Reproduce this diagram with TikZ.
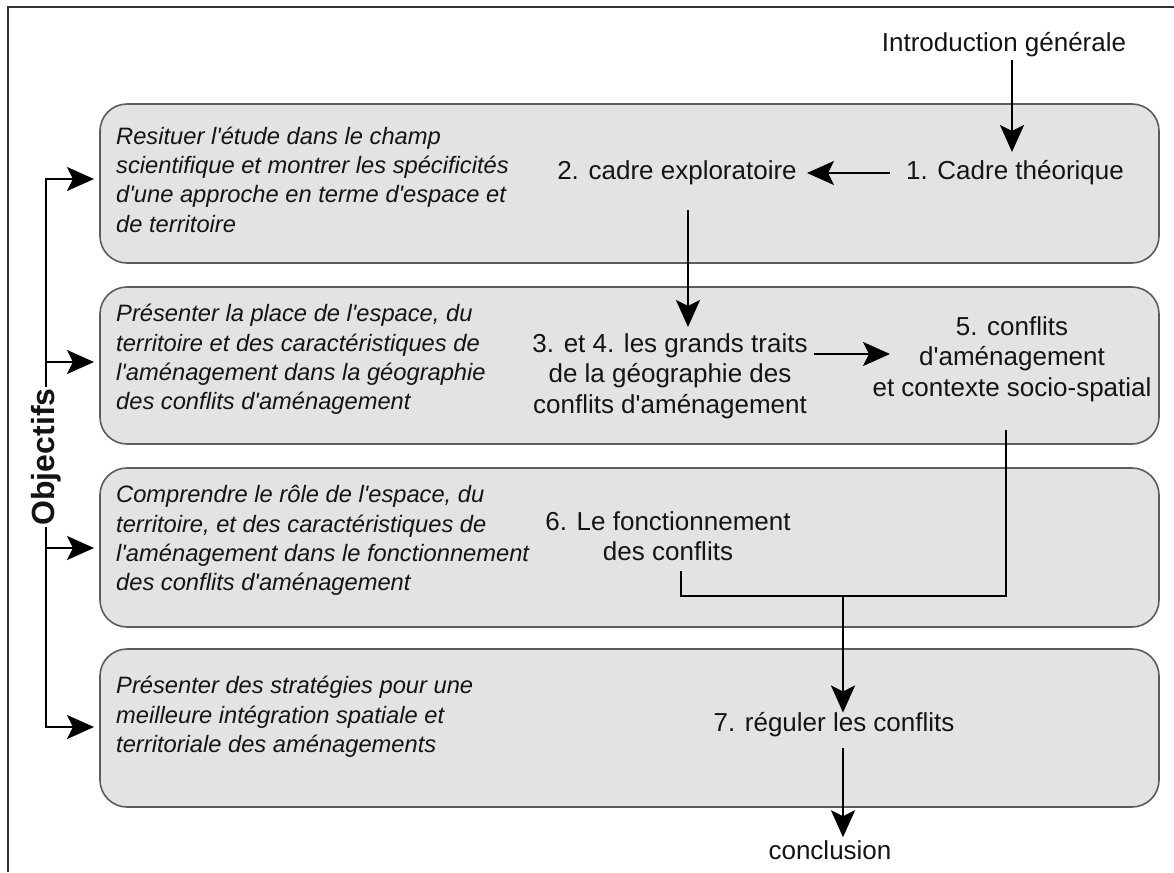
\documentclass[tikz,border=0pt]{standalone}
\usepackage{fontspec}
\setmainfont{Liberation Sans}[Ligatures=TeXOff]
\usetikzlibrary{arrows.meta}
\definecolor{boxfill}{HTML}{E3E3E3}
\definecolor{boxline}{HTML}{5C5C5C}
\definecolor{txt}{HTML}{141414}
\definecolor{frame}{HTML}{333333}
\begin{document}
\begin{tikzpicture}[x=1pt,y=-1pt,
  box/.style={draw=boxline, line width=1.6pt, fill=boxfill, rounded corners=27pt,
    minimum width=1059pt, inner sep=0pt},
  goal/.style={font=\fontsize{23.7}{29.3}\selectfont\itshape, align=left, anchor=west,
    inner sep=0pt, text=txt},
  lbl/.style={font=\fontsize{26}{30.5}\selectfont, align=center, inner sep=0pt, text=txt},
  arr/.style={line width=2.3pt, -{Stealth[length=27pt,width=24pt,inset=6pt]}},
  conn/.style={line width=2.3pt},
]
\useasboundingbox (0,0) rectangle (1174,872);
\fill[white] (0,0) rectangle (1174,872);
\draw[frame, line width=1.4pt] (8,872) -- (8,7) -- (1174,7);

% boxes
\node[box, minimum height=159pt] (b1) at (629.5,183.5) {};
\node[box, minimum height=157pt] (b2) at (629.5,365.5) {};
\node[box, minimum height=159pt] (b3) at (629.5,547.5) {};
\node[box, minimum height=158pt] (b4) at (629.5,728) {};

% objectives
\node[goal] (g1) at (116,179.5) {Resituer l'étude dans le champ\\scientifique et montrer les spécificités\\d'une approche en terme d'espace et\\de territoire};
\node[goal] (g2) at (116,359.5) {Présenter la place de l'espace, du\\territoire et des caractéristiques de\\l'aménagement dans la géographie\\des conflits d'aménagement};
\node[goal] (g3) at (116,540.5) {Comprendre le rôle de l'espace, du\\territoire, et des caractéristiques de\\l'aménagement dans le fonctionnement\\des conflits d'aménagement};
\node[goal] (g4) at (116,717) {Présenter des stratégies pour une\\meilleure intégration spatiale et\\territoriale des aménagements};

% bracket
\node[font=\fontsize{32}{32}\selectfont\bfseries, rotate=90, inner sep=1.5pt, text=txt] (objt) at (46,457) {Objectifs};
\coordinate (o1) at (94,179);
\coordinate (o2) at (94,362);
\coordinate (o3) at (94,548);
\coordinate (o4) at (94,727);
\draw[arr] (objt.east) |- (o1);
\draw[arr] (objt.east) |- (o2);
\draw[arr] (objt.west) |- (o3);
\draw[arr] (objt.west) |- (o4);

% flow labels
\node[lbl] (intro) at (1004,45) {Introduction générale};
\node[lbl] (t1) at (1015,173) {1. Cadre théorique};
\node[lbl] (t2) at (677,173) {2. cadre exploratoire};
\node[lbl] (t34) at (670,376) {3. et 4. les grands traits\\de la géographie des\\conflits d'aménagement};
\node[lbl] (t5) at (1012,359) {5. conflits\\d'aménagement\\et contexte socio-spatial};
\node[lbl] (t6) at (668,536) {6. Le fonctionnement\\des conflits};
\node[lbl] (t7) at (834,725) {7. réguler les conflits};
\node[lbl] (concl) at (830,850) {conclusion};

% connectors
\coordinate (ax1) at (1012,152);
\coordinate (ax2) at (807,173);
\coordinate (ax3) at (688,327);
\coordinate (ax4) at (890,354);
\coordinate (j5) at (1006,596);
\coordinate (j6) at (681,596);
\coordinate (j7) at (843,596);

\draw[arr, shorten <=3pt] (intro.south -| ax1) -- (ax1);
\draw[arr, shorten <=16pt] (t1.west |- ax2) -- (ax2);
\draw[arr, shorten <=25pt] (t2.south -| ax3) -- (ax3);
\draw[arr, shorten <=6pt] (t34.east |- ax4) -- (ax4);
\draw[conn, shorten <=28pt, shorten >=10pt] (t5.south -| j5) -- (j5) -- (j6) -- (t6.south -| j6);
\draw[arr] (j7) -- (t7.north -| j7);
\draw[arr, shorten <=11pt, shorten >=3pt] (t7.south -| j7) -- (concl.north -| j7);
\end{tikzpicture}
\end{document}
